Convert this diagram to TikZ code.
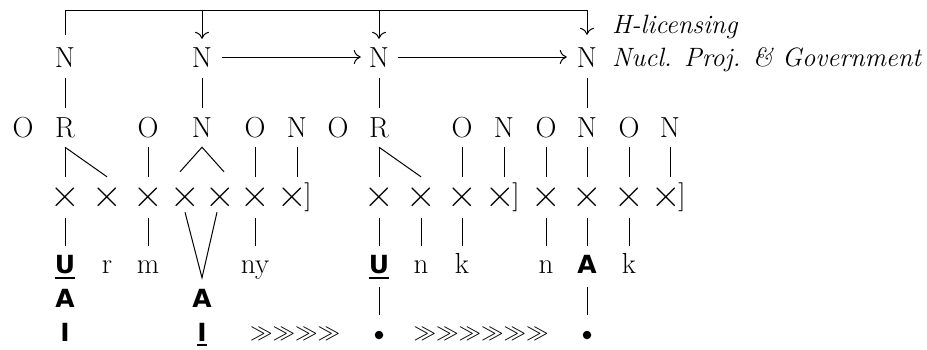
\RequirePackage{fix-cm}
\documentclass[tikz,border=0pt]{standalone}
\usepackage{fontspec}
\newfontfamily\bsans{DejaVu Sans}
\usetikzlibrary{arrows.meta}
\newcommand{\brk}{\rlap{\hspace*{-2.5pt}\raisebox{3pt}{\fontsize{29}{29}\selectfont ]}}}
\tikzset{
  big/.style={font=\fontsize{29}{29}\selectfont},
  lv/.style={big, inner sep=0pt, anchor=base, text height=20pt, text depth=0pt},
  xx/.style={font=\fontsize{41}{41}\selectfont, inner sep=0pt, anchor=base, text height=20pt, text depth=0pt},
  seg/.style={big, inner sep=0pt, anchor=base, text height=20pt, text depth=0pt},
  bs/.style={inner sep=0pt, anchor=base, text height=20pt, text depth=0pt, font=\fontsize{25}{25}\selectfont\bsans\bfseries},
  dot/.style={circle, fill=black, inner sep=0pt, minimum size=8.5pt},
  chev/.style={inner sep=0pt, font=\fontsize{22.5}{22.5}\selectfont},
  lab/.style={inner sep=0pt, anchor=base west, font=\fontsize{26.5}{26.5}\selectfont\itshape},
  el/.style={line width=1pt},
  ar/.style={el, -{To[length=7pt,width=14pt]}},
  ul/.style={line width=2.5pt},
}
\begin{document}
\begin{tikzpicture}[x=1pt,y=-1pt]
\useasboundingbox (0,0) rectangle (927,349);
\coordinate (top) at (0,11);
% top row
\node[lv] (n1) at (65,67) {N};
\node[lv] (n2) at (202,67) {N};
\node[lv] (n3) at (379,67) {N};
\node[lv] (n4) at (587,67) {N};
\node[lab] (hl) at (612,33) {H-licensing};
\node[lab] (ng) at (612,66) {Nucl. Proj. \& Government};
% level 2
\node[lv] (o1) at (23,137) {O};
\node[lv] (r1) at (65,137) {R};
\node[lv] (o2) at (148,137) {O};
\node[lv] (m1) at (202,137) {N};
\node[lv] (o3) at (255,137) {O};
\node[lv] (m2) at (297,137) {N};
\node[lv] (o4) at (338,137) {O};
\node[lv] (r2) at (379,137) {R};
\node[lv] (o5) at (462,137) {O};
\node[lv] (m3) at (504,137) {N};
\node[lv] (o6) at (546,137) {O};
\node[lv] (m4) at (587,137) {N};
\node[lv] (o7) at (629,137) {O};
\node[lv] (m5) at (670,137) {N};
% skeleton
\node[xx] (x1) at (65,207) {×};
\node[xx] (x2) at (107,207) {×};
\node[xx] (x3) at (148,207) {×};
\node[xx] (x4) at (185,207) {×};
\node[xx] (x5) at (220,207) {×};
\node[xx] (x6) at (255,207) {×};
\node[xx] (x7) at (292,207) {×\brk};
\node[xx] (x8) at (379,207) {×};
\node[xx] (x9) at (421,207) {×};
\node[xx] (x10) at (462,207) {×};
\node[xx] (x11) at (500,207) {×\brk};
\node[xx] (x12) at (546,207) {×};
\node[xx] (x13) at (587,207) {×};
\node[xx] (x14) at (629,207) {×};
\node[xx] (x15) at (666,207) {×\brk};
% segments
\node[bs] (s1) at (65,273) {U};
\node[seg] (s2) at (107,273) {r};
\node[seg] (s3) at (148,273) {m};
\node[seg] (s4) at (255,273) {ny};
\node[bs] (s5) at (379,273) {U};
\node[seg] (s6) at (421,273) {n};
\node[seg] (s7) at (462,273) {k};
\node[seg] (s8) at (546,273) {n};
\node[bs] (s9) at (587,273) {A};
\node[seg] (s10) at (629,273) {k};
\node[bs] (a1) at (65,307) {A};
\node[bs] (a2) at (202,307) {A};
\node[bs] (i1) at (65,341) {I};
\node[bs] (i2) at (202,341) {I};
\node[dot] (b1) at (379,335) {};
\node[dot] (b2) at (587,335) {};
\node[chev] (c1) at (295,334) {$\gg\gg\gg\gg$};
\node[chev] (c2) at (481,334) {$\gg\gg\gg\gg\gg\gg$};
% underlines
\draw[ul] ([yshift=-5pt]s1.base west) -- ([yshift=-5pt]s1.base east);
\draw[ul] ([yshift=-5pt]s5.base west) -- ([yshift=-5pt]s5.base east);
\draw[ul] ([yshift=-4pt]i2.base west) -- ([yshift=-4pt]i2.base east);
% top frame and arrows
\draw[ar] ([yshift=12pt]n1.north) |- ([yshift=36pt]n4.north) -- ([yshift=12pt]n4.north);
\draw[ar] (n2.north |- top) -- ([yshift=8pt]n2.north);
\draw[ar] (n3.north |- top) -- ([yshift=8pt]n3.north);
\draw[ar] ([xshift=10pt]n2.east) -- ([xshift=-8pt]n3.west);
\draw[ar] ([xshift=9pt]n3.east) -- ([xshift=-10pt]n4.west);
% N to level 2
\foreach \a/\b in {n1/r1, n2/m1, n3/r2, n4/m4}
  \draw[el] ([yshift=-11pt]\a.south) -- ([yshift=9pt]\b.north);
% level 2 to skeleton
\foreach \a/\b in {r1/x1, r1/x2, o2/x3, o3/x6, r2/x8, r2/x9, o5/x10, o6/x12, m4/x13, o7/x14}
  \draw[el] ([yshift=-10pt]\a.south) -- ([yshift=10pt]\b.north);
\foreach \a/\b in {m2/x7, m3/x11, m5/x15}
  \draw[el] ([yshift=-10pt]\a.south) -- ([yshift=10pt]\a.south |- \b.north);
\draw[el] ([xshift=-5pt,yshift=15pt]x4.north) -- ([yshift=-10pt]m1.south) -- ([xshift=4pt,yshift=15pt]x5.north);
% skeleton to segments
\foreach \a/\b in {x1/s1, x3/s3, x6/s4, x8/s5, x9/s6, x10/s7, x12/s8, x13/s9, x14/s10}
  \draw[el] ([yshift=-11pt]\a.south) -- ([yshift=7pt]\b.north);
\draw[el] ([yshift=-5pt]x4.south) -- ([yshift=9pt]a2.north) -- ([xshift=-3pt,yshift=-5pt]x5.south);
% to dots
\draw[el] ([yshift=-14pt]s5.south) -- ([yshift=16pt]b1.north);
\draw[el] ([yshift=-14pt]s9.south) -- ([yshift=16pt]b2.north);
\end{tikzpicture}
\end{document}
